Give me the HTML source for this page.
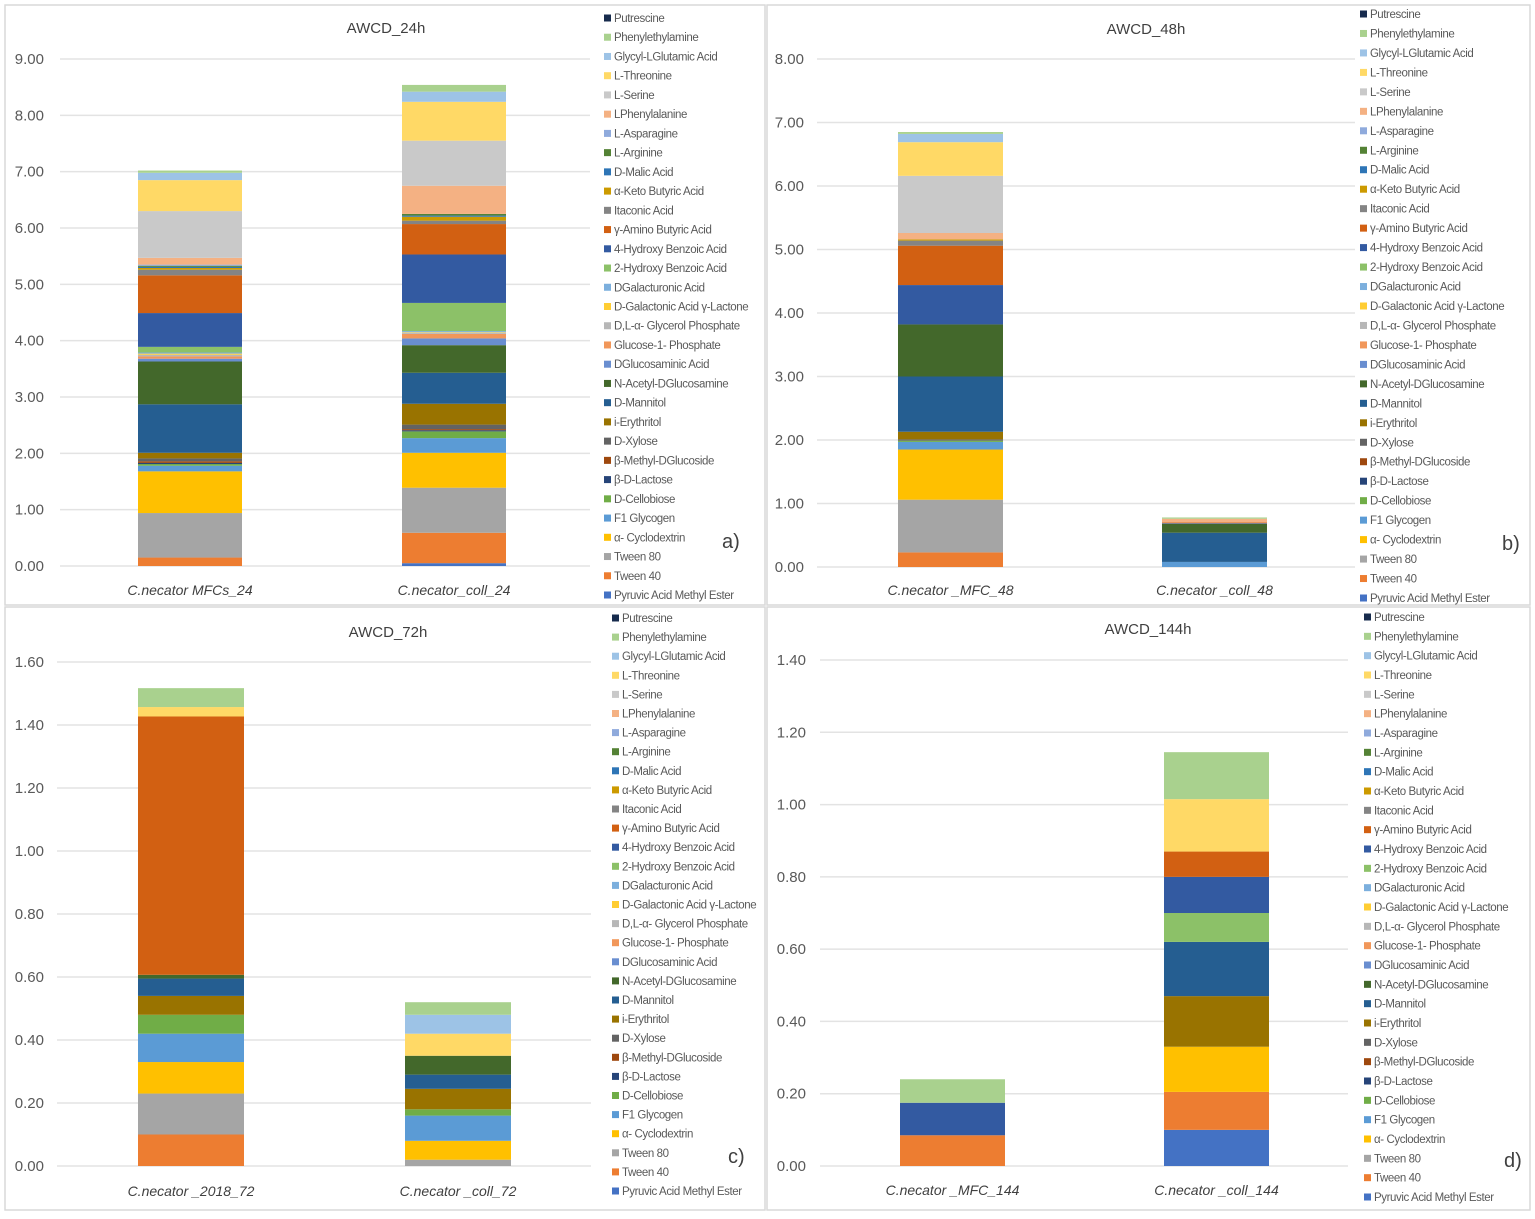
<!DOCTYPE html>
<html><head><meta charset="utf-8"><style>
html,body{margin:0;padding:0;background:#fff;}
svg{display:block;font-family:"Liberation Sans",sans-serif;}
</style></head><body>
<svg id="fig" width="1535" height="1219" viewBox="0 0 1535 1219" xmlns="http://www.w3.org/2000/svg"></svg>
<script>
const seriesNames = ["Pyruvic Acid Methyl Ester","Tween 40","Tween 80","\u03b1- Cyclodextrin","F1 Glycogen","D-Cellobiose","\u03b2-D-Lactose","\u03b2-Methyl-DGlucoside","D-Xylose","i-Erythritol","D-Mannitol","N-Acetyl-DGlucosamine","DGlucosaminic Acid","Glucose-1- Phosphate","D,L-\u03b1- Glycerol Phosphate","D-Galactonic Acid \u03b3-Lactone","DGalacturonic Acid","2-Hydroxy Benzoic Acid","4-Hydroxy Benzoic Acid","\u03b3-Amino Butyric Acid","Itaconic Acid","\u03b1-Keto Butyric Acid","D-Malic Acid","L-Arginine","L-Asparagine","LPhenylalanine","L-Serine","L-Threonine","Glycyl-LGlutamic Acid","Phenylethylamine","Putrescine"];
const seriesColors = ["#4472C4","#ED7D31","#A5A5A5","#FFC000","#5B9BD5","#70AD47","#264478","#9E480E","#636363","#997300","#255E91","#43682B","#698ED0","#F1975A","#B7B7B7","#FFCD33","#7CAFDD","#8CC168","#335AA1","#D26012","#848484","#CC9A00","#2E75B6","#548235","#8FAADC","#F4B183","#C9C9C9","#FFD966","#9DC3E6","#A9D18E","#172B4D"];

const catsA = ["C.necator MFCs_24","C.necator_coll_24"];
const valsA1 = [0,0.15,0.79,0.74,0.10,0.03,0.02,0.03,0.05,0.10,0.86,0.76,0.05,0.04,0.03,0.02,0.02,0.10,0.60,0.67,0.10,0.03,0.02,0.02,0.02,0.12,0.83,0.55,0.13,0.04,0];
const valsA2 = [0.05,0.54,0.80,0.62,0.26,0.12,0.02,0.02,0.08,0.37,0.55,0.49,0.12,0.08,0.02,0.01,0.02,0.50,0.86,0.54,0.06,0.07,0.02,0.03,0,0.50,0.80,0.69,0.18,0.12,0];
const ticksA = ["0.00","1.00","2.00","3.00","4.00","5.00","6.00","7.00","8.00","9.00"];

const catsB = ["C.necator _MFC_48","C.necator _coll_48"];
const valsB1 = [0,0.23,0.83,0.79,0.12,0.02,0,0,0.02,0.12,0.87,0.82,0,0,0,0,0,0,0.62,0.62,0.08,0.02,0,0,0,0.10,0.90,0.53,0.13,0.03,0];
const valsB2 = [0,0,0,0,0.08,0,0,0,0,0,0.46,0.14,0,0,0,0,0,0,0.01,0.01,0,0,0,0,0,0.06,0,0,0,0.02,0];
const ticksB = ["0.00","1.00","2.00","3.00","4.00","5.00","6.00","7.00","8.00"];

const catsC = ["C.necator _2018_72","C.necator _coll_72"];
const valsC1 = [0,0.10,0.13,0.10,0.09,0.06,0,0,0,0.06,0.055,0.012,0,0,0,0,0,0,0,0.82,0,0,0,0,0,0,0,0.03,0,0.06,0];
const valsC2 = [0,0,0.02,0.06,0.08,0.02,0,0,0,0.065,0.045,0.06,0,0,0,0,0,0,0,0,0,0,0,0,0,0,0,0.07,0.06,0.04,0];
const ticksC = ["0.00","0.20","0.40","0.60","0.80","1.00","1.20","1.40","1.60"];

const catsD = ["C.necator _MFC_144","C.necator _coll_144"];
const valsD1 = [0,0.085,0,0,0,0,0,0,0,0,0,0,0,0,0,0,0,0,0.09,0,0,0,0,0,0,0,0,0,0,0.065,0];
const valsD2 = [0.10,0.105,0,0.125,0,0,0,0,0,0.14,0.15,0,0,0,0,0,0,0.08,0.10,0.07,0,0,0,0,0,0,0,0.145,0,0.13,0];
const ticksD = ["0.00","0.20","0.40","0.60","0.80","1.00","1.20","1.40"];

const NS="http://www.w3.org/2000/svg";
const svg=document.getElementById('fig');
function mk(tag,attrs,parent,text){const e=document.createElementNS(NS,tag);for(const k in attrs)e.setAttribute(k,attrs[k]);if(text!==undefined)e.textContent=text;(parent||svg).appendChild(e);return e;}

function panel(cfg){
  const g=mk('g',{});
  
  
  const border=mk('rect',{x:cfg.bx,y:cfg.by,width:cfg.bw,height:cfg.bh,fill:'#fff',stroke:'#d9d9d9','stroke-width':1.5},g);
  
  
  const tmax=parseFloat(cfg.ticks[cfg.ticks.length-1]);
  const yS=v=>cfg.y0-(v/tmax)*(cfg.y0-cfg.yTop);
  cfg.ticks.forEach(t=>{
    const y=yS(parseFloat(t));
    const gl=mk('line',{x1:cfg.gx1,x2:cfg.gx2,y1:y,y2:y,stroke:'#e3e3e3','stroke-width':1.5},g);
    
    
    const tl=mk('text',{x:cfg.lx,y:y+5,'text-anchor':'end','font-size':15,fill:'#595959'},g,t);
    
    
  });
  const title=mk('text',{x:cfg.tx,y:cfg.ty,'text-anchor':'middle','font-size':15,fill:'#404040'},g,cfg.title);
  
  
  cfg.vals.forEach((vals,bi)=>{
    let cum=0;
    const bx=cfg.barX[bi];
    vals.forEach((v,si)=>{
      if(v<=0)return;
      const yTopV=yS(cum+v), yBot=yS(cum);
      const r=mk('rect',{x:bx,y:yTopV,width:cfg.barW,height:yBot-yTopV,fill:seriesColors[si]},g);
      
      
      cum+=v;
    });
    const cl=mk('text',{x:bx+cfg.barW/2,y:cfg.catY,'text-anchor':'middle','font-size':14,'font-style':'italic',fill:'#404040'},g,cfg.cats[bi]);
    
    
  });
  // legend
  const n=seriesNames.length;
  for(let i=0;i<n;i++){
    const si=n-1-i;
    const y=cfg.legY0+i*(cfg.legY1-cfg.legY0)/(n-1);
    const m=mk('rect',{x:cfg.legX,y:y-3.5,width:7,height:7,fill:seriesColors[si]},g);
    
    
    const lt=mk('text',{x:cfg.legX+10,y:y+4,'font-size':11.5,fill:'#595959','letter-spacing':'-0.4'},g,seriesNames[si]);
    
    
  }
  const pl=mk('text',{x:cfg.px,y:cfg.py,'font-size':20,fill:'#404040'},g,cfg.plabel);
  
  
}

panel({name:'panel-a',bx:5,by:5,bw:760,bh:600,ticks:ticksA,y0:566,yTop:59,gx1:60,gx2:590,lx:44,title:'AWCD_24h',tx:386,ty:33,
  vals:[valsA1,valsA2],cats:catsA,barX:[138,402],barW:104,catY:595,legX:604,legY0:18,legY1:595,px:722,py:548,plabel:'a)'});
panel({name:'panel-b',bx:767,by:5,bw:763,bh:600,ticks:ticksB,y0:567,yTop:59,gx1:817,gx2:1355,lx:804,title:'AWCD_48h',tx:1146,ty:34,
  vals:[valsB1,valsB2],cats:catsB,barX:[898,1162],barW:105,catY:595,legX:1360,legY0:14,legY1:598,px:1502,py:550,plabel:'b)'});
panel({name:'panel-c',bx:5,by:607,bw:760,bh:603,ticks:ticksC,y0:1166,yTop:662,gx1:57,gx2:591,lx:44,title:'AWCD_72h',tx:388,ty:637,
  vals:[valsC1,valsC2],cats:catsC,barX:[138,405],barW:106,catY:1196,legX:612,legY0:618,legY1:1191,px:728,py:1163,plabel:'c)'});
panel({name:'panel-d',bx:767,by:607,bw:763,bh:603,ticks:ticksD,y0:1166,yTop:660,gx1:820,gx2:1348,lx:806,title:'AWCD_144h',tx:1148,ty:634,
  vals:[valsD1,valsD2],cats:catsD,barX:[900,1164],barW:105,catY:1195,legX:1364,legY0:617,legY1:1197,px:1504,py:1167,plabel:'d)'});
</script>
</body></html>
